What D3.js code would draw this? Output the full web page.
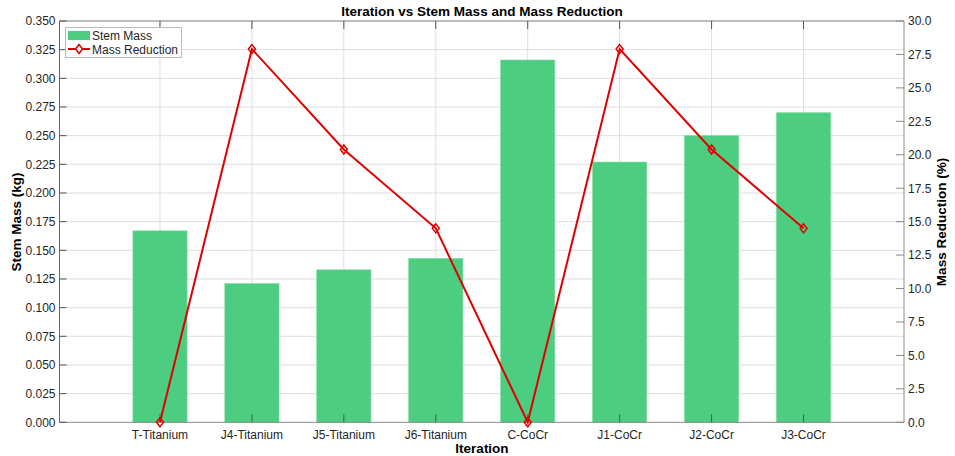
<!DOCTYPE html>
<html><head><meta charset="utf-8">
<script src="https://cdn.jsdelivr.net/npm/d3@7"></script>
<style>body{margin:0;background:#fff}svg{display:block;font-family:"Liberation Sans",Arial,sans-serif}</style>
</head><body><svg id="c" width="955" height="456"></svg>
<script>
const categories = ["T-Titanium","J4-Titanium","J5-Titanium","J6-Titanium","C-CoCr","J1-CoCr","J2-CoCr","J3-CoCr"];
const stemMass = [0.167,0.121,0.133,0.143,0.316,0.227,0.250,0.270];
const massReduction = [0,27.9,20.4,14.5,0,27.9,20.4,14.5];
const leftTicks = d3.range(0,0.3501,0.025);
const rightTicks = d3.range(0,30.01,2.5);

const svg = d3.select("#c");
const L=59.5, R=904, T=21, B=422.3;
const x = d3.scaleLinear().domain([-1.093,8.093]).range([L,R]);
const yL = d3.scaleLinear().domain([0,0.35]).range([B,T]);
const yR = d3.scaleLinear().domain([0,30]).range([B,T]);
const gridC="#dedede", axC="#8a8a8a", txt="#262626";

// grid
svg.append("g").selectAll("line").data(leftTicks.slice(1)).join("line")
  .attr("x1",L).attr("x2",R).attr("y1",d=>yL(d)).attr("y2",d=>yL(d))
  .attr("stroke",gridC).attr("stroke-width",1);
svg.append("g").selectAll("line").data(categories).join("line")
  .attr("x1",(d,i)=>x(i)).attr("x2",(d,i)=>x(i)).attr("y1",T).attr("y2",B)
  .attr("stroke",gridC).attr("stroke-width",1);

// bars
const bw = 0.59*(x(1)-x(0));
svg.append("g").selectAll("rect").data(stemMass).join("rect")
  .attr("x",(d,i)=>x(i)-bw/2).attr("width",bw)
  .attr("y",d=>yL(d)).attr("height",d=>B-yL(d))
  .attr("fill","#4dcd80").attr("stroke","#7fdca2").attr("stroke-width",0.6);

// box & ticks
svg.append("line").attr("x1",L).attr("x2",R).attr("y1",T).attr("y2",T).attr("stroke",axC);
svg.append("line").attr("x1",L).attr("x2",R).attr("y1",B).attr("y2",B).attr("stroke",axC);
svg.append("line").attr("x1",L).attr("x2",L).attr("y1",T).attr("y2",B).attr("stroke","#666");
svg.append("line").attr("x1",R).attr("x2",R).attr("y1",T).attr("y2",B).attr("stroke",axC);
const xt=svg.append("g");
categories.forEach((c,i)=>{
  xt.append("line").attr("x1",x(i)).attr("x2",x(i)).attr("y1",B).attr("y2",B-8).attr("stroke","#555");
  xt.append("line").attr("x1",x(i)).attr("x2",x(i)).attr("y1",T).attr("y2",T+8).attr("stroke","#555");
  xt.append("text").attr("x",x(i)).attr("y",439).attr("text-anchor","middle")
    .attr("font-size",12).attr("fill",txt).text(c);
});
const lt=svg.append("g");
leftTicks.forEach(v=>{
  lt.append("line").attr("x1",L).attr("x2",L+7).attr("y1",yL(v)).attr("y2",yL(v)).attr("stroke","#555");
  lt.append("text").attr("x",L-4).attr("y",yL(v)+4.3).attr("text-anchor","end")
    .attr("font-size",12).attr("fill",txt).text(v.toFixed(3));
});
const rt=svg.append("g");
rightTicks.forEach(v=>{
  rt.append("line").attr("x1",R).attr("x2",R-8).attr("y1",yR(v)).attr("y2",yR(v)).attr("stroke",axC);
  rt.append("text").attr("x",R+4).attr("y",yR(v)+4.3).attr("text-anchor","start")
    .attr("font-size",12).attr("fill",txt).text(v.toFixed(1));
});

// line
const line = d3.line().x((d,i)=>x(i)).y(d=>yR(d));
svg.append("path").datum(massReduction).attr("d",line)
  .attr("fill","none").attr("stroke","#e00000").attr("stroke-width",2);
const diamond = "M0,-4.5L3.5,0L0,4.5L-3.5,0Z";
svg.append("g").selectAll("path").data(massReduction).join("path")
  .attr("transform",(d,i)=>`translate(${x(i)},${yR(d)})`).attr("d",diamond)
  .attr("fill","none").attr("stroke","#e00000").attr("stroke-width",1.5);

// titles
svg.append("text").attr("x",482).attr("y",16).attr("text-anchor","middle")
  .attr("font-size",13.5).attr("font-weight","bold").attr("fill","#000").text("Iteration vs Stem Mass and Mass Reduction");
svg.append("text").attr("x",482).attr("y",453).attr("text-anchor","middle")
  .attr("font-size",13.5).attr("font-weight","bold").attr("fill","#000").text("Iteration");
svg.append("text").attr("transform","translate(21,222) rotate(-90)").attr("text-anchor","middle")
  .attr("font-size",13.5).attr("font-weight","bold").attr("fill","#000").text("Stem Mass (kg)");
svg.append("text").attr("transform","translate(946,222) rotate(-90)").attr("text-anchor","middle")
  .attr("font-size",13.5).attr("font-weight","bold").attr("fill","#000").text("Mass Reduction (%)");

// legend
const lg=svg.append("g");
lg.append("rect").attr("x",65.5).attr("y",27.5).attr("width",116).attr("height",30)
  .attr("fill","#fff").attr("stroke","#bbb");
lg.append("rect").attr("x",68).attr("y",31).attr("width",22).attr("height",9).attr("fill","#4dcd80");
lg.append("text").attr("x",92).attr("y",40).attr("font-size",12).attr("fill",txt).text("Stem Mass");
lg.append("line").attr("x1",68).attr("x2",90).attr("y1",49).attr("y2",49).attr("stroke","#e00000").attr("stroke-width",2);
lg.append("path").attr("transform","translate(79,49)").attr("d",diamond).attr("fill","#fff").attr("stroke","#e00000").attr("stroke-width",1.5);
lg.append("text").attr("x",92).attr("y",53.5).attr("font-size",12).attr("fill",txt).text("Mass Reduction");
</script></body></html>
